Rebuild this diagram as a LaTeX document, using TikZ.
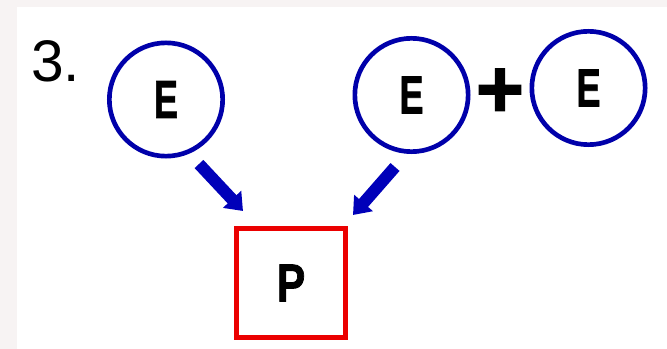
\documentclass[tikz,border=0pt]{standalone}
\usepackage{fontspec}
\setmainfont{Liberation Sans}
\newfontfamily\heavyfont{Liberation Sans Bold}[FakeBold=1.6]
\usepackage{xcolor}
\usepackage{tikz}
\usetikzlibrary{arrows.meta,positioning,shapes}
\definecolor{ringblue}{RGB}{0,0,170}
\definecolor{arrowblue}{RGB}{0,0,185}
\definecolor{boxred}{RGB}{235,0,0}
\definecolor{backgray}{RGB}{247,243,243}

\begin{document}
\begin{tikzpicture}[x=0.75pt,y=-0.75pt,
		enz/.style={circle,draw=ringblue,line width=3.5pt,minimum size=85pt,inner sep=0pt,
			font=\fontsize{40}{40}\selectfont\heavyfont},
		prod/.style={rectangle,draw=boxred,line width=3.75pt,minimum size=81.75pt,inner sep=0pt,
			font=\fontsize{40}{40}\selectfont\heavyfont},
		fat/.style={arrowblue,line width=9pt,-{Triangle[width=18pt,length=12pt]}}]
			% ---------------- Frame ----------------
			\fill[backgray] (0,0) rectangle (667,349);
			\fill[white] (17,7) rectangle (667,349);

			% Label
			\node[anchor=base west,inner sep=0pt,font=\fontsize{44}{48}\selectfont] (num) at (31,82) {3.};

			% Nodes
			\node[enz] (E1) at (166,99.5) {\scalebox{0.68}[1]{E}};
			\node[enz] (E2) at (411.5,95) {\scalebox{0.68}[1]{E}};
			\node[enz] (E3) at (588.5,88) {\scalebox{0.68}[1]{E}};
			\node[inner sep=0pt,font=\fontsize{62}{62}\selectfont\heavyfont] (plus) at (500,93) {+};
			\node[prod] (P) at (291,283) {\scalebox{0.8}[1]{P}};

			% Arrows
			\coordinate (t1) at (199,164);
			\coordinate (h1) at (243,211);
			\coordinate (t2) at (395,167);
			\coordinate (h2) at (353,215);
			\draw[fat] (t1) -- (h1);
			\draw[fat] (t2) -- (h2);
		\end{tikzpicture}
\end{document}
